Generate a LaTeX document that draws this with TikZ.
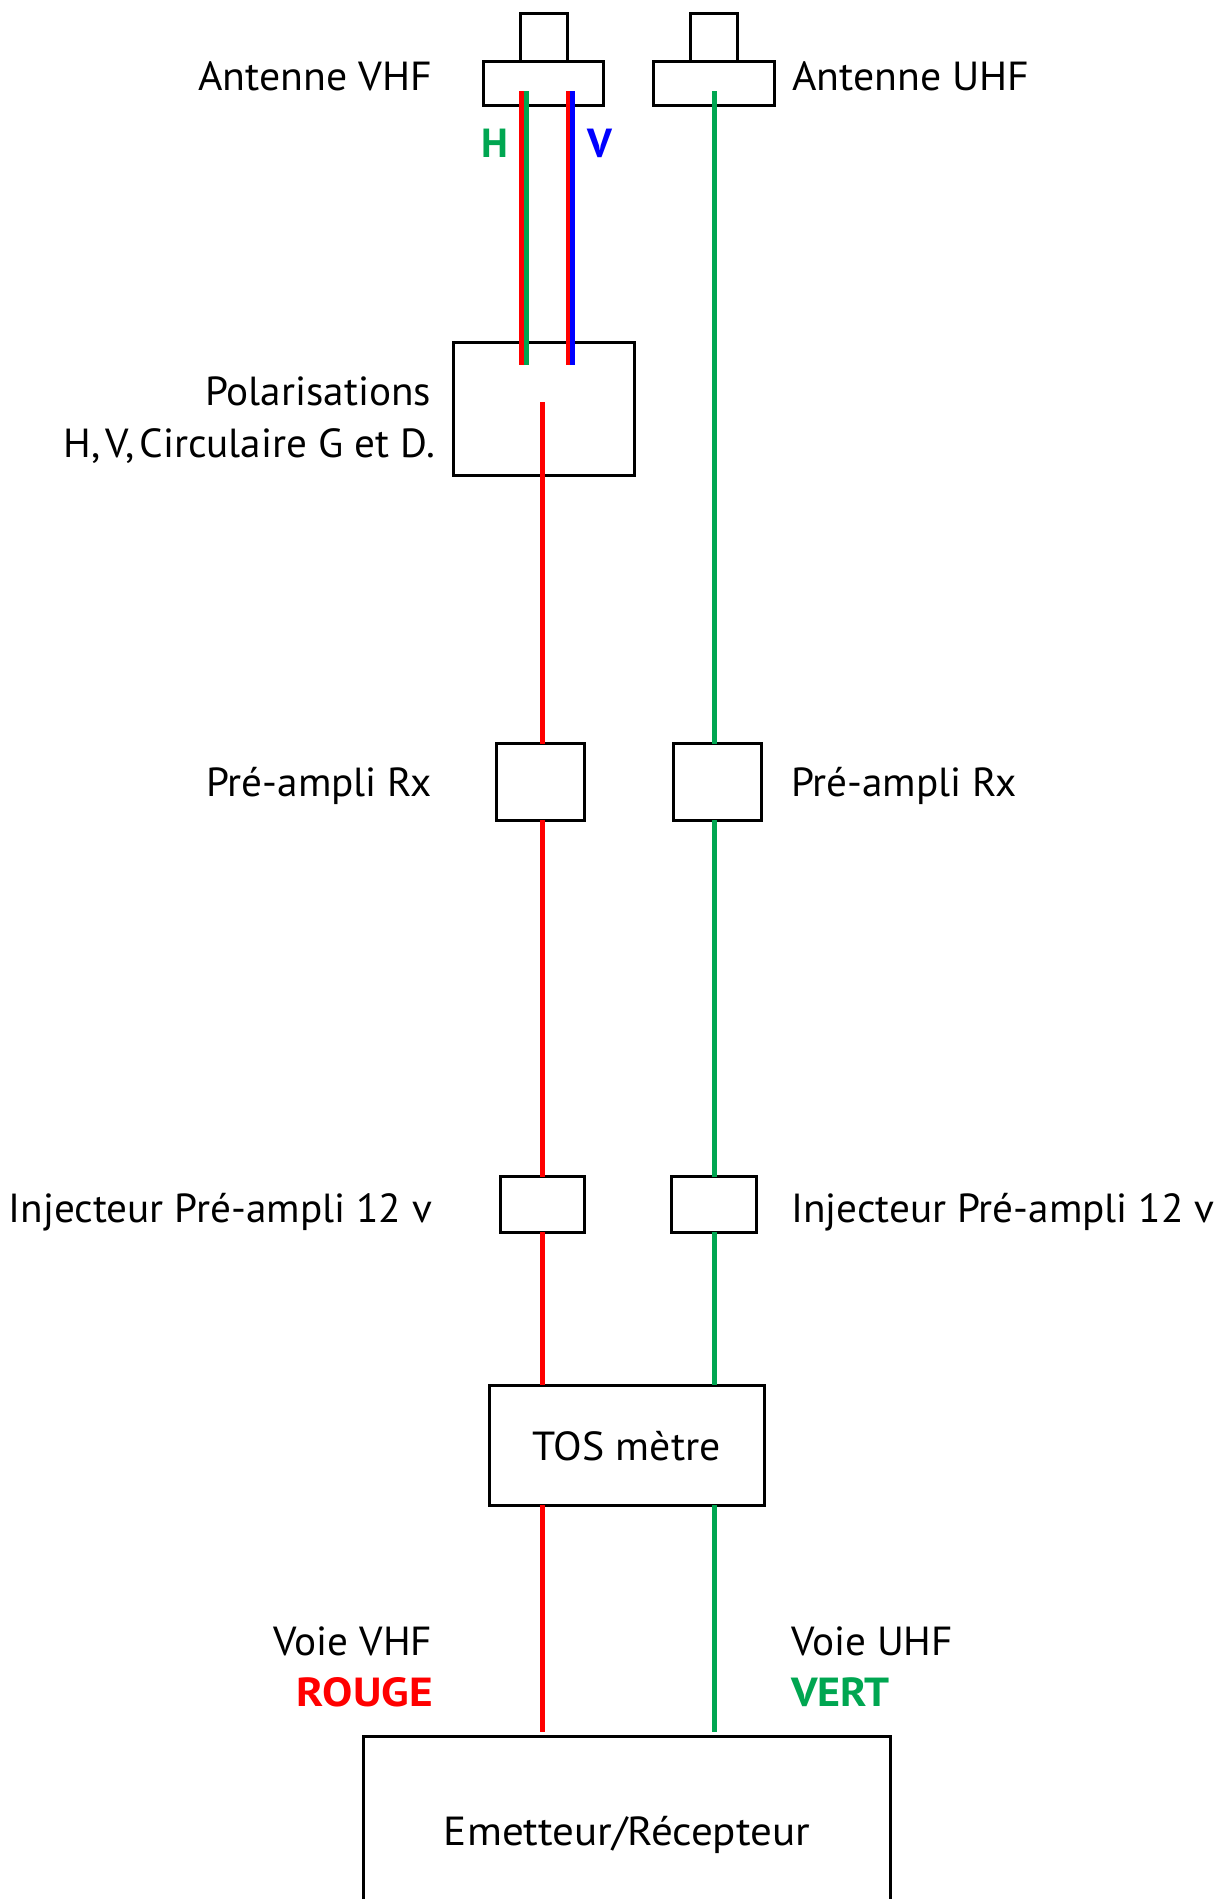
\documentclass[tikz,border=0pt]{standalone}
\usepackage{fontspec}
\setmainfont{PT Sans}[FakeStretch=1.015]
\definecolor{cred}{RGB}{255,0,0}
\definecolor{cgreen}{RGB}{0,166,81}
\definecolor{cblue}{RGB}{0,0,255}
\tikzset{
  box/.style={draw=black, line width=3pt, inner sep=0pt, outer sep=0pt, rectangle},
  lbl/.style={inner sep=0pt, outer sep=0pt, font=\fontsize{40.6}{48}\selectfont},
  blbl/.style={inner sep=0pt, outer sep=0pt, font=\fontsize{40.6}{48}\selectfont\bfseries},
  redline/.style={draw=cred, line width=5pt},
  greenline/.style={draw=cgreen, line width=5pt},
  blueline/.style={draw=cblue, line width=4.7pt},
}
\begin{document}
\begin{tikzpicture}[x=1pt,y=-1pt]
\useasboundingbox (0,0) rectangle (1226,1899);
% antennas
\node[box, minimum width=47.5pt, minimum height=48.5pt] (antVtop) at (543.75,37.25) {};
\node[box, minimum width=120pt, minimum height=44pt] (antVbot) at (543.5,83.5) {};
\node[box, minimum width=47pt, minimum height=48.5pt] (antUtop) at (714,37.25) {};
\node[box, minimum width=121pt, minimum height=44pt] (antUbot) at (714,83.5) {};
% polarisation box
\node[box, minimum width=181pt, minimum height=133pt] (pol) at (544,409) {};
% pre-amps
\node[box, minimum width=88pt, minimum height=76.5pt] (preL) at (540.5,781.8) {};
\node[box, minimum width=88pt, minimum height=76.5pt] (preR) at (717.8,781.8) {};
% injectors
\node[box, minimum width=84pt, minimum height=55.5pt] (injL) at (542,1204.7) {};
\node[box, minimum width=84.7pt, minimum height=55.5pt] (injR) at (714.2,1204.7) {};
% TOS
\node[box, minimum width=275pt, minimum height=120pt] (tos) at (626.7,1445) {};
\node[lbl, anchor=base] (tostxt) at (626.7,1460) {\scalebox{1.015}[1]{TOS mètre}};
% transceiver
\node[box, minimum width=527pt, minimum height=300pt] (emet) at (627,1886) {};
\node[lbl, anchor=base] (emettxt) at (627,1845) {\scalebox{1.045}[1]{Emetteur/Récepteur}};

% coordinates
\coordinate (hR0) at (521.7,91);
\coordinate (hR1) at (521.7,365);
\coordinate (hG0) at (526.5,91);
\coordinate (hG1) at (526.5,365);
\coordinate (vR0) at (568.1,91);
\coordinate (vR1) at (568.1,365);
\coordinate (vB0) at (572.7,91);
\coordinate (vB1) at (572.7,365);
\coordinate (polout) at (542,402);
\coordinate (uhf0) at (714.5,91);
\coordinate (redend) at (542,1732);
\coordinate (greenend) at (714.5,1732);

% VHF polarisation lines
\draw[redline, line width=4.7pt] (hR0) -- (hR1);
\draw[greenline, line width=4.7pt] (hG0) -- (hG1);
\draw[redline, line width=4.4pt] (vR0) -- (vR1);
\draw[blueline] (vB0) -- (vB1);

% red chain
\draw[redline] (polout) -- (polout |- preL.north);
\draw[redline] (polout |- preL.south) -- (polout |- injL.north);
\draw[redline] (polout |- injL.south) -- (polout |- tos.north);
\draw[redline] (polout |- tos.south) -- (redend);

% green chain
\draw[greenline] (uhf0) -- (uhf0 |- preR.north);
\draw[greenline] (uhf0 |- preR.south) -- (uhf0 |- injR.north);
\draw[greenline] (uhf0 |- injR.south) -- (uhf0 |- tos.north);
\draw[greenline] (uhf0 |- tos.south) -- (greenend);

% labels
\node[lbl, anchor=base east] (lantV) at (432,90) {\scalebox{1.015}[1]{Antenne VHF}};
\node[lbl, anchor=base west] (lantU) at (792,90) {\scalebox{1.015}[1]{Antenne UHF}};
\node[blbl, text=cgreen, anchor=base] (lH) at (494.5,157) {H};
\node[blbl, text=cblue, anchor=base] (lV) at (599.5,157) {V};
\node[lbl, anchor=base east] (lpol1) at (431,405) {Polarisations};
\node[lbl, anchor=base east] (lpol2) at (435,457) {H,\hspace{0.12em}V,\hspace{0.12em}Circulaire G et D.};
\node[lbl, anchor=base east] (lpreL) at (432,796) {Pré-ampli Rx};
\node[lbl, anchor=base west] (lpreR) at (791,796) {Pré-ampli Rx};
\node[lbl, anchor=base east] (linjL) at (432.3,1222.7) {Injecteur Pré-ampli 12 v};
\node[lbl, anchor=base west] (linjR) at (791,1222.7) {Injecteur Pré-ampli 12 v};
\node[lbl, anchor=base east] (lvoieV) at (432,1655) {Voie VHF};
\node[blbl, text=cred, anchor=base east] (lrouge) at (432.7,1706) {\scalebox{1.1}[1]{ROUGE}};
\node[lbl, anchor=base west] (lvoieU) at (791,1655) {Voie UHF};
\node[blbl, text=cgreen, anchor=base west] (lvert) at (791,1706) {\scalebox{1.07}[1]{VERT}};
\end{tikzpicture}
\end{document}
